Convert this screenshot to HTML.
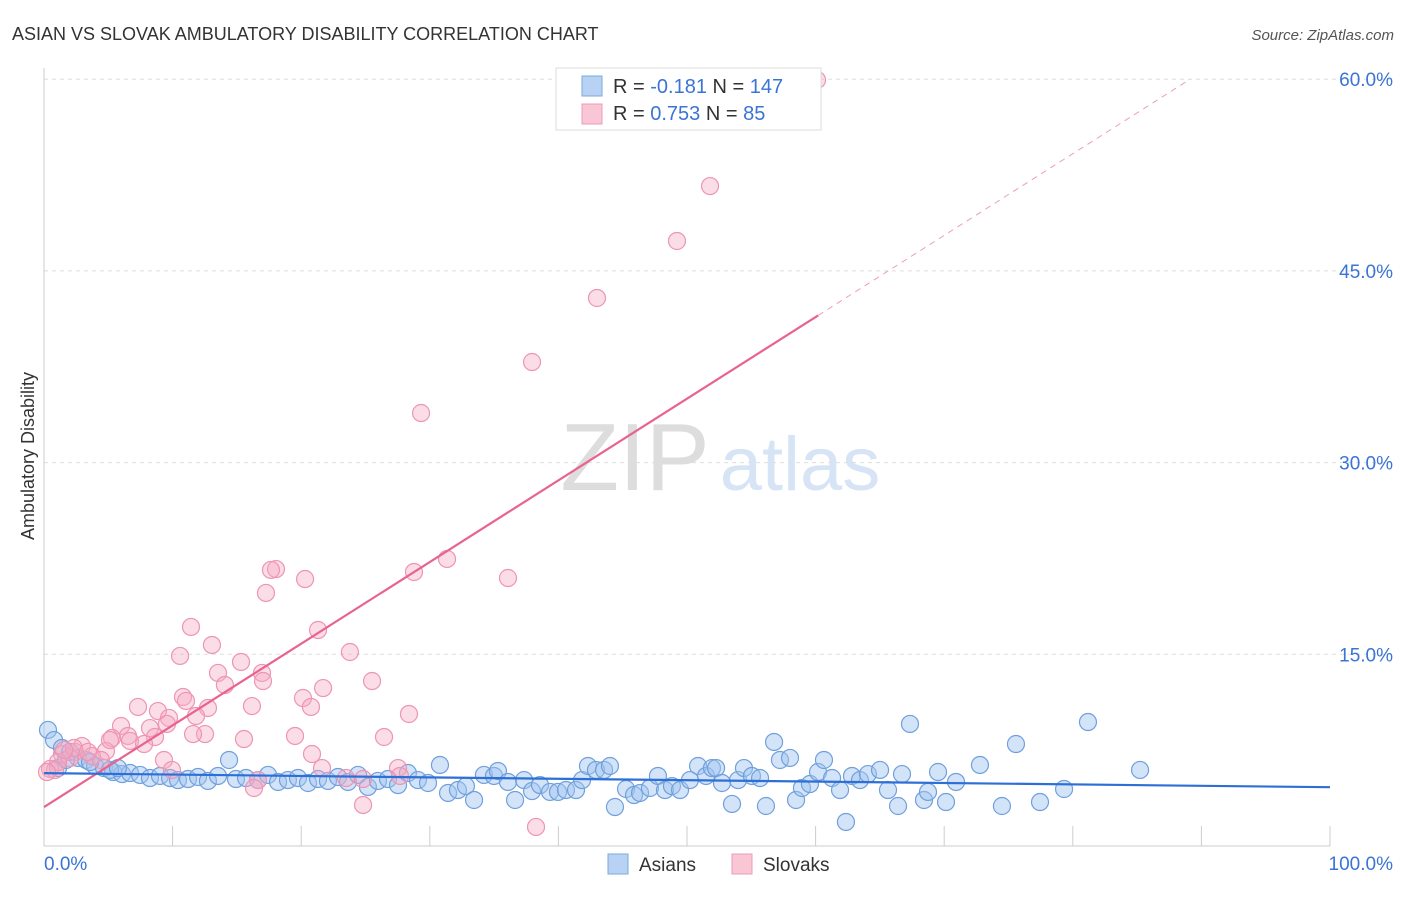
<!DOCTYPE html>
<html><head><meta charset="utf-8"><style>
body{margin:0;background:#fff;font-family:"Liberation Sans",sans-serif}
svg text{font-family:"Liberation Sans",sans-serif}
</style></head><body>
<svg id="c" width="1406" height="892" xmlns="http://www.w3.org/2000/svg">
<text x="12" y="40" font-size="18" fill="#333">ASIAN VS SLOVAK AMBULATORY DISABILITY CORRELATION CHART</text>
<text x="1394" y="40" font-size="15" fill="#555" font-style="italic" text-anchor="end">Source: ZipAtlas.com</text>
<text x="34" y="456" font-size="18" fill="#333" text-anchor="middle" transform="rotate(-90 34 456)">Ambulatory Disability</text>
<g><text x="635" y="490" font-size="96" fill="#ddd" text-anchor="middle" font-family="Liberation Serif">ZIP</text><text x="800" y="490" font-size="76" fill="#d6e4f5" text-anchor="middle">atlas</text></g>
<g id="grid"></g><g id="axes"></g><g id="pts"></g><g id="lines"></g>
<g>
<rect x="556" y="68" width="265" height="62" fill="#fff" stroke="#ddd"/>
<rect x="582" y="76" width="20" height="20" fill="#b8d2f4" stroke="#7aa9e0"/>
<rect x="582" y="104" width="20" height="20" fill="#f9c6d6" stroke="#ef9ab8"/>
<text x="613" y="93" font-size="20" fill="#333">R = <tspan fill="#3a74d4">-0.181</tspan>   N = <tspan fill="#3a74d4">147</tspan></text>
<text x="613" y="120" font-size="20" fill="#333">R =  <tspan fill="#3a74d4">0.753</tspan>   N =   <tspan fill="#3a74d4">85</tspan></text>
</g>
<g>
<rect x="608" y="854" width="20" height="20" fill="#b8d2f4" stroke="#7aa9e0"/><text x="639" y="871" font-size="19" fill="#333">Asians</text>
<rect x="732" y="854" width="20" height="20" fill="#f9c6d6" stroke="#ef9ab8"/><text x="763" y="871" font-size="19" fill="#333">Slovaks</text>
</g>
</svg>
<script>
const yTicks=[15,30,45,60];
const yTickLabels=["15.0%","30.0%","45.0%","60.0%"];
const xTicks=[0,10,20,30,40,50,60,70,80,90,100];
const pinkPx=[[817,80],[710,186],[677,241],[597,298],[532,362],[421,413],[447,559],[508,578],[414,572],[276,569],[271,570],[305,579],[266,593],[191,627],[318,630],[212,645],[180,656],[350,652],[241,662],[218,673],[262,673],[372,681],[263,681],[225,685],[183,697],[323,688],[186,701],[303,698],[138,707],[158,711],[208,708],[252,706],[311,707],[169,718],[196,716],[167,724],[121,726],[150,728],[409,714],[205,734],[193,734],[128,736],[112,738],[295,736],[155,737],[244,739],[384,737],[130,741],[144,744],[106,751],[82,746],[75,752],[312,754],[62,754],[92,756],[70,758],[101,760],[58,762],[164,760],[50,769],[55,770],[47,772],[398,768],[322,768],[172,770],[258,780],[400,776],[346,778],[363,779],[254,788],[536,827],[363,805],[74,748],[88,752],[64,750],[110,740]];
const bluePx=[[48,730],[54,740],[62,748],[70,752],[78,758],[86,760],[95,766],[104,768],[113,772],[122,774],[130,773],[140,775],[150,778],[160,776],[170,778],[178,780],[188,779],[198,777],[208,781],[218,776],[229,760],[236,779],[246,778],[258,780],[268,775],[278,782],[288,780],[298,778],[308,783],[318,779],[328,781],[338,777],[348,782],[358,775],[368,787],[378,781],[388,779],[398,785],[408,773],[418,780],[428,783],[440,765],[448,793],[458,790],[466,786],[474,800],[484,775],[494,776],[498,771],[508,782],[515,800],[524,780],[532,791],[540,785],[550,792],[558,792],[566,790],[576,790],[582,780],[588,766],[596,770],[604,770],[610,766],[615,807],[626,789],[634,795],[640,793],[650,788],[658,776],[665,790],[672,786],[680,790],[690,780],[698,766],[706,776],[712,768],[716,768],[722,783],[732,804],[738,780],[744,768],[752,776],[760,778],[766,806],[774,742],[780,760],[790,758],[796,800],[802,788],[810,784],[818,772],[824,760],[832,778],[840,790],[846,822],[852,776],[860,780],[868,774],[880,770],[888,790],[898,806],[902,774],[910,724],[924,800],[928,792],[938,772],[946,802],[956,782],[980,765],[1002,806],[1016,744],[1040,802],[1064,789],[1088,722],[1140,770],[58,768],[66,760],[110,770],[118,768],[90,762]];
// convert reading to data values (x %, y %)
const pinkData=pinkPx.map(p=>[+((p[0]-44)/12.86).toFixed(2),+((846-p[1])/12.78).toFixed(2)]);
const blueData=bluePx.map(p=>[+((p[0]-44)/12.86).toFixed(2),+((846-p[1])/12.78).toFixed(2)]);
const pinkTrend=[3.05,0.639,89.1,60.2]; // intercept, slope, dashedEnd, solidEnd
const blueTrend=[5.7,4.6];
const X=v=>44+v*12.86, Y=v=>846-v*12.78;
const NS="http://www.w3.org/2000/svg";
function mk(p,t,a){const e=document.createElementNS(NS,t);for(const k in a)e.setAttribute(k,a[k]);document.getElementById(p).appendChild(e);return e;}
yTicks.forEach((t,i)=>{
 const l=mk('grid','line',{x1:44,x2:1394,y1:Y(t),y2:Y(t),stroke:'#ddd','stroke-dasharray':'4 4'});
 
 
 const tx=mk('grid','text',{x:1393,y:Y(t)+7,'font-size':19,fill:'#3a74d4','text-anchor':'end'});tx.textContent=yTickLabels[i];
 
 
});
mk('axes','line',{x1:44,x2:44,y1:68,y2:846,stroke:'#ccc'});
mk('axes','line',{x1:44,x2:1330,y1:846,y2:846,stroke:'#ccc'});
xTicks.forEach(t=>{const l=mk('axes','line',{x1:X(t),x2:X(t),y1:826,y2:846,stroke:'#ccc'});
 
 });
let a=mk('axes','text',{x:44,y:870,'font-size':19,fill:'#3a74d4'});a.textContent='0.0%';


a=mk('axes','text',{x:1393,y:870,'font-size':19,fill:'#3a74d4','text-anchor':'end'});a.textContent='100.0%';


blueData.forEach(d=>{const c=mk('pts','circle',{cx:X(d[0]),cy:Y(d[1]),r:8.5,fill:'rgba(160,196,240,0.45)',stroke:'#6fa0dc','stroke-width':1.2});
 
 });
pinkData.forEach(d=>{const c=mk('pts','circle',{cx:X(d[0]),cy:Y(d[1]),r:8.5,fill:'rgba(245,170,195,0.4)',stroke:'#ee94b4','stroke-width':1.2});
 
 });
let l=mk('lines','line',{x1:X(0),y1:Y(pinkTrend[0]),x2:X(pinkTrend[3]),y2:Y(pinkTrend[0]+pinkTrend[1]*pinkTrend[3]),stroke:'#e8638f','stroke-width':2.2});


l=mk('lines','line',{x1:X(pinkTrend[3]),y1:Y(pinkTrend[0]+pinkTrend[1]*pinkTrend[3]),x2:X(pinkTrend[2]),y2:Y(pinkTrend[0]+pinkTrend[1]*pinkTrend[2]),stroke:'#eaa0b8','stroke-width':1,'stroke-dasharray':'6 5'});


l=mk('lines','line',{x1:X(0),y1:Y(blueTrend[0]),x2:X(100),y2:Y(blueTrend[1]),stroke:'#2d6fd6','stroke-width':2.2});


</script>
</body></html>
